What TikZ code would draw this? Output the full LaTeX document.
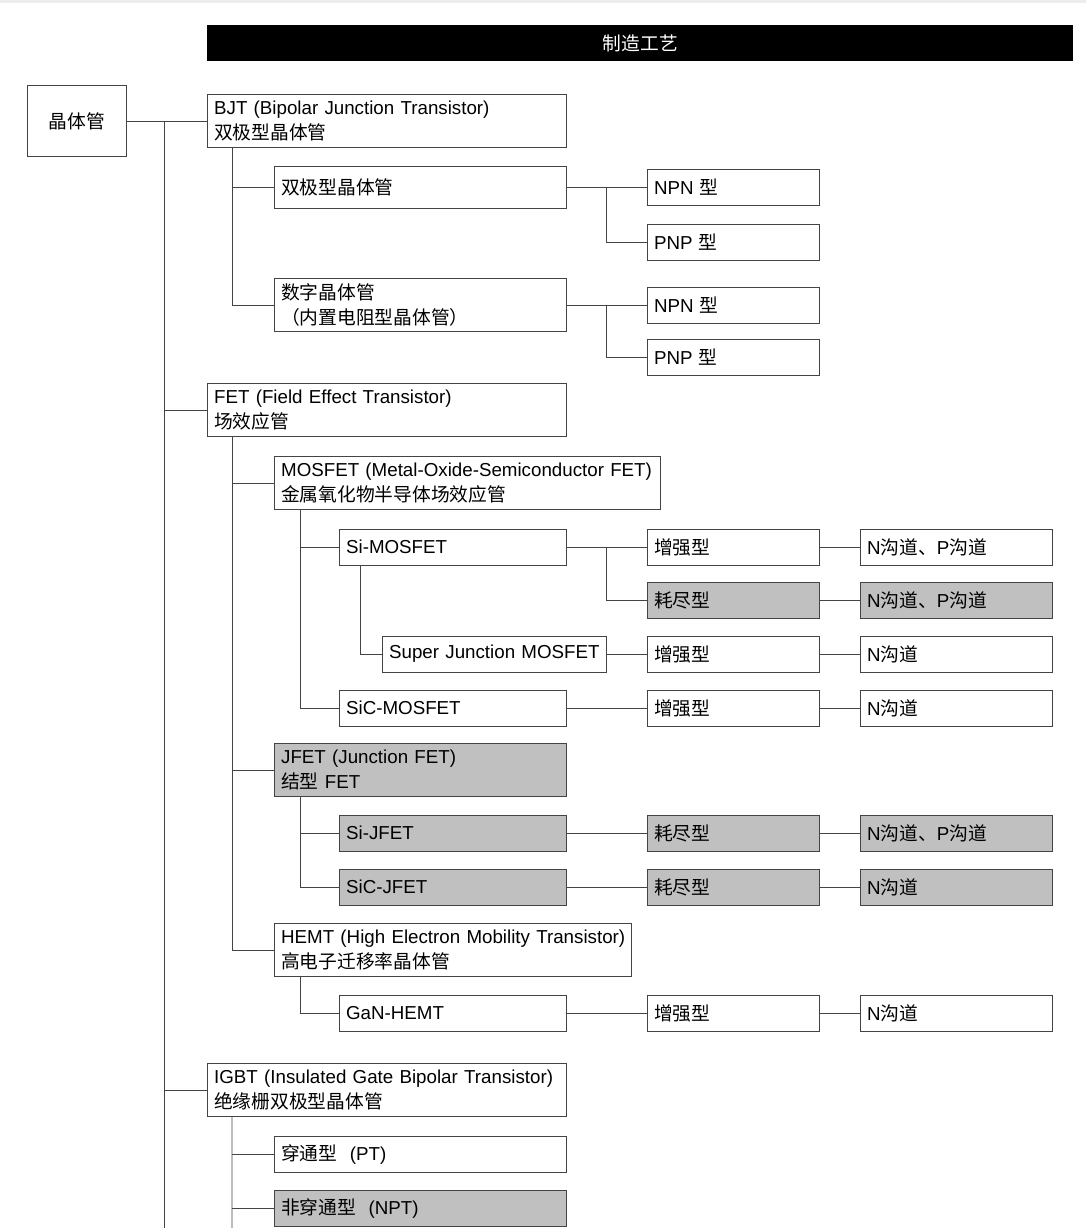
\documentclass[tikz,border=0pt]{standalone}
\usepackage{fontspec}
\setmainfont{Liberation Sans}
\newfontfamily\cjk{Noto Sans CJK SC}
\newcommand{\zh}[1]{{\cjk #1}}
\definecolor{linec}{HTML}{444444}
\definecolor{shade}{HTML}{C0C0C0}
\tikzset{
    box/.style={draw=linec, line width=0.8pt, anchor=west, align=left, inner xsep=0.2cm, inner ysep=0pt, font=\fontsize{16pt}{21.6pt}\selectfont},
    wide/.style={box, text width=10.37cm, minimum height=1.59cm},
    mid/.style={box, text width=8.36cm, minimum height=1.08cm},
    sub/.style={box, text width=6.41cm, minimum height=1.08cm},
    mode/.style={box, text width=4.76cm, minimum height=1.08cm},
    chan/.style={box, text width=5.36cm, minimum height=1.08cm},
    dep/.style={fill=shade},
    conn/.style={draw=linec, line width=0.8pt}
}
\begin{document}
\begin{tikzpicture}[x=0.03cm, y=-0.03cm]
            \useasboundingbox (0,0) rectangle (1086,1228);
            \fill[black!7] (0,0) rectangle (1086,3);
            \node(bar) at (207,43) [anchor=west, fill=black, minimum width=25.98cm, minimum height=1.08cm, inner sep=0pt, text=white, font=\fontsize{16pt}{20pt}\selectfont\cjk] {制造工艺};
            \node(root) at (27,121) [draw=linec, line width=0.8pt, anchor=west, minimum width=2.97cm, minimum height=2.13cm, font=\fontsize{16pt}{20pt}\selectfont\cjk] {晶体管};

            \node(bjt) at (207,121) [wide] {BJT (Bipolar Junction Transistor)\\\zh{双极型晶体管}};
            \node(dual) at (274,187) [mid, minimum height=1.26cm] {\zh{双极型晶体管}};
            \node(npn1) at (647,187) [mode] {NPN \zh{型}};
            \node(pnp1) at (647,242) [mode] {PNP \zh{型}};
            \node(digital) at (274,305) [mid, minimum height=1.59cm] {\zh{数字晶体管}\\\zh{（内置电阻型晶体管）}};
            \node(npn2) at (647,305) [mode] {NPN \zh{型}};
            \node(pnp2) at (647,357) [mode] {PNP \zh{型}};

            \node(fet) at (207,410) [wide] {FET (Field Effect Transistor)\\\zh{场效应管}};
            \node(mosfet) at (274,483) [wide, text width=11.18cm] {MOSFET (Metal-Oxide-Semiconductor FET)\\\zh{金属氧化物半导体场效应管}};
            \node(simos) at (339,547) [sub] {Si-MOSFET};
            \node(enh1) at (647,547) [mode] {\zh{增强型}};
            \node(ch1) at (860,547) [chan] {N\zh{沟道、}P\zh{沟道}};
            \node(dep1) at (647,600) [mode, dep] {\zh{耗尽型}};
            \node(ch2) at (860,600) [chan, dep] {N\zh{沟道、}P\zh{沟道}};
            \node(sj) at (382,654) [sub, text width=6.32cm] {\mbox{Super Junction MOSFET}};
            \node(enh2) at (647,654) [mode] {\zh{增强型}};
            \node(ch3) at (860,654) [chan] {N\zh{沟道}};
            \node(sicmos) at (339,708) [sub] {SiC-MOSFET};
            \node(enh3) at (647,708) [mode] {\zh{增强型}};
            \node(ch4) at (860,708) [chan] {N\zh{沟道}};

            \node(jfet) at (274,770) [wide, text width=8.36cm, dep] {JFET (Junction FET)\\\zh{结型} FET};
            \node(sijfet) at (339,833) [sub, dep] {Si-JFET};
            \node(dep2) at (647,833) [mode, dep] {\zh{耗尽型}};
            \node(ch5) at (860,833) [chan, dep] {N\zh{沟道、}P\zh{沟道}};
            \node(sicjfet) at (339,887) [sub, dep] {SiC-JFET};
            \node(dep3) at (647,887) [mode, dep] {\zh{耗尽型}};
            \node(ch6) at (860,887) [chan, dep] {N\zh{沟道}};

            \node(hemt) at (274,950) [wide, text width=10.31cm] {\mbox{HEMT (High Electron Mobility Transistor)}\\\zh{高电子迁移率晶体管}};
            \node(gan) at (339,1013) [sub] {GaN-HEMT};
            \node(enh4) at (647,1013) [mode] {\zh{增强型}};
            \node(ch7) at (860,1013) [chan] {N\zh{沟道}};

            \node(igbt) at (207,1090) [wide] {IGBT (Insulated Gate Bipolar Transistor)\\\zh{绝缘栅双极型晶体管}};
            \node(pt) at (274,1154) [mid] {\zh{穿通型}\ \ (PT)};
            \node(npt) at (274,1208) [mid, dep] {\zh{非穿通型}\ \ (NPT)};

            \coordinate(trunkend) at (164,1228);
            \coordinate(igbtend) at (232,1228);

            \draw[conn] (root.east) -- (bjt.west);
            \draw[conn] (root.east -| trunkend) -- (trunkend);
            \draw[conn] (trunkend |- fet.west) -- (fet.west);
            \draw[conn] (trunkend |- igbt.west) -- (igbt.west);

            \draw[conn] ([xshift=0.75cm]bjt.south west) |- (dual.west);
            \draw[conn] ([xshift=0.75cm]bjt.south west) |- (digital.west);
            \draw[conn] (dual.east) -- (npn1.west);
            \draw[conn] ([xshift=1.2cm]dual.east) |- (pnp1.west);
            \draw[conn] (digital.east) -- (npn2.west);
            \draw[conn] ([xshift=1.2cm]digital.east) |- (pnp2.west);

            \draw[conn] ([xshift=0.75cm]fet.south west) |- (mosfet.west);
            \draw[conn] ([xshift=0.75cm]fet.south west) |- (jfet.west);
            \draw[conn] ([xshift=0.75cm]fet.south west) |- (hemt.west);

            \draw[conn] ([xshift=0.78cm]mosfet.south west) |- (simos.west);
            \draw[conn] ([xshift=0.78cm]mosfet.south west) |- (sicmos.west);
            \draw[conn] ([xshift=0.63cm]simos.south west) |- (sj.west);
            \draw[conn] (simos.east) -- (enh1.west);
            \draw[conn] ([xshift=1.2cm]simos.east) |- (dep1.west);
            \draw[conn] (enh1.east) -- (ch1.west);
            \draw[conn] (dep1.east) -- (ch2.west);
            \draw[conn] (sj.east) -- (enh2.west);
            \draw[conn] (enh2.east) -- (ch3.west);
            \draw[conn] (sicmos.east) -- (enh3.west);
            \draw[conn] (enh3.east) -- (ch4.west);

            \draw[conn] ([xshift=0.78cm]jfet.south west) |- (sijfet.west);
            \draw[conn] ([xshift=0.78cm]jfet.south west) |- (sicjfet.west);
            \draw[conn] (sijfet.east) -- (dep2.west);
            \draw[conn] (dep2.east) -- (ch5.west);
            \draw[conn] (sicjfet.east) -- (dep3.west);
            \draw[conn] (dep3.east) -- (ch6.west);

            \draw[conn] ([xshift=0.78cm]hemt.south west) |- (gan.west);
            \draw[conn] (gan.east) -- (enh4.west);
            \draw[conn] (enh4.east) -- (ch7.west);

            \draw[conn] ([xshift=0.75cm]igbt.south west) -- (igbtend);
            \draw[conn] (igbtend |- pt.west) -- (pt.west);
            \draw[conn] (igbtend |- npt.west) -- (npt.west);
        \end{tikzpicture}
\end{document}
